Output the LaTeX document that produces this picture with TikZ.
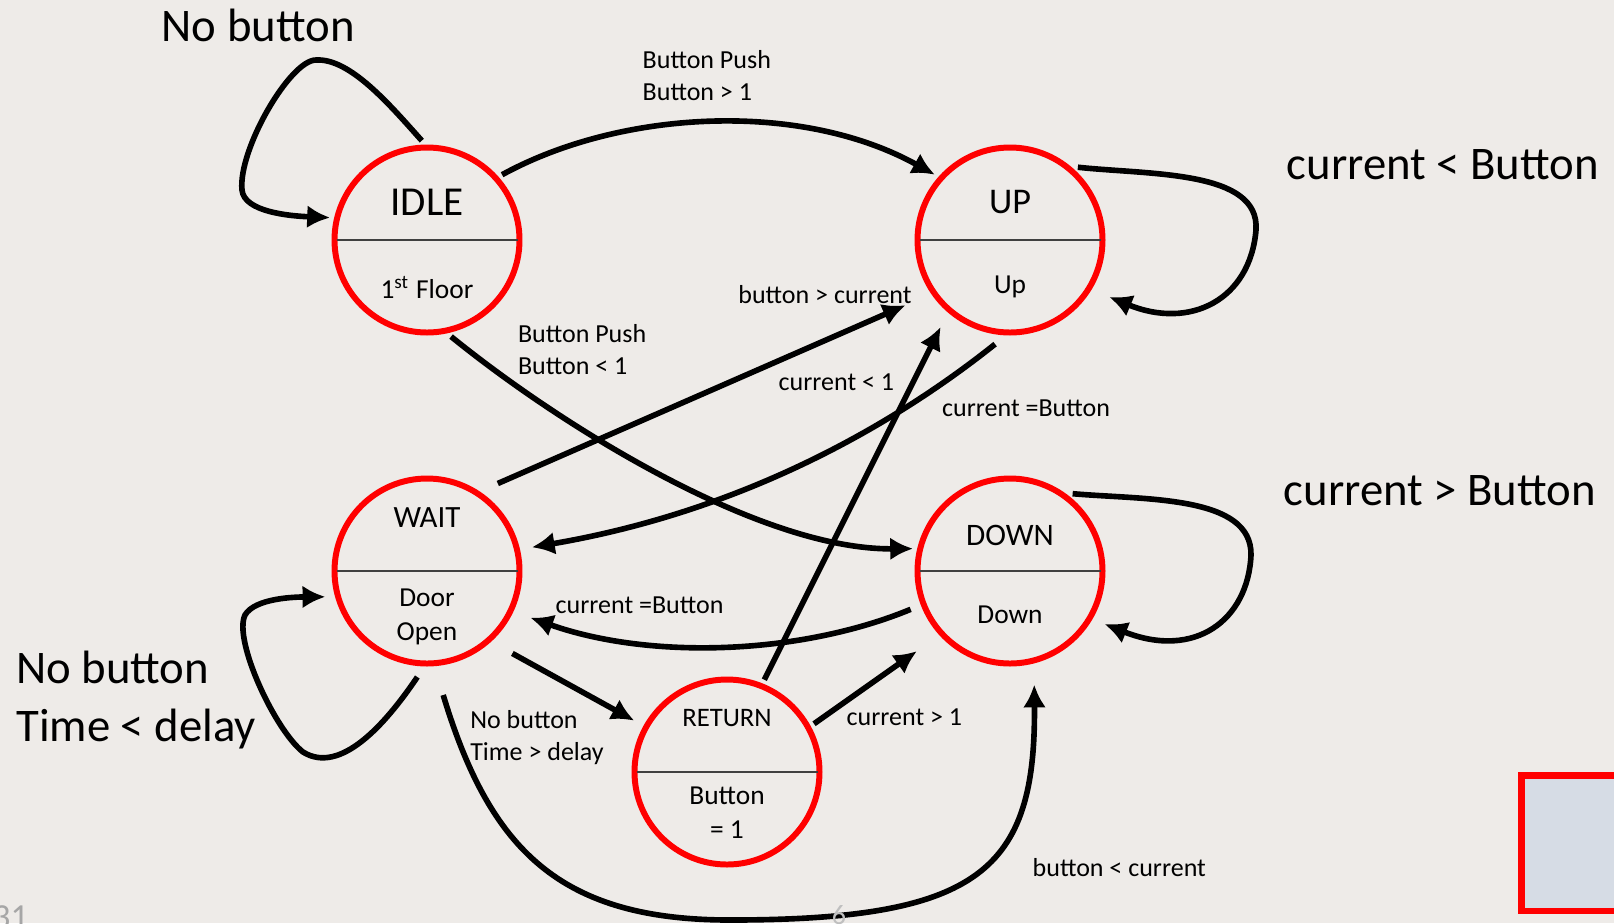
\documentclass[tikz,border=0pt]{standalone}
\usepackage{fontspec}
\setmainfont{Carlito}
\usetikzlibrary{arrows.meta}

\definecolor{slidebg}{RGB}{238,235,232}
\definecolor{boxfill}{RGB}{214,220,229}

\begin{document}
\begin{tikzpicture}[
    state/.style={
        circle,
        draw=red,
        line width=1.7pt,
        minimum size=1.85cm,
        outer sep=0.7mm
    },
    divider/.style={
        draw=black!75,
        line width=0.45pt
    },
    statename/.style={
        anchor=base,
        inner sep=0pt
    },
    inside/.style={
        anchor=base,
        inner sep=0pt,
        align=center,
        font=\fontsize{7.8}{9.5}\selectfont
    },
    cond/.style={
        anchor=base west,
        inner sep=0pt,
        align=left,
        font=\fontsize{7.4}{9.1}\selectfont
    },
    note/.style={
        anchor=base west,
        inner sep=0pt,
        align=left,
        font=\fontsize{13.3}{16.6}\selectfont
    },
    arrow/.style={
        -{Latex[length=6.5pt,width=6.5pt]},
        line width=1.6pt
    }
]

\fill[slidebg] (0,0) rectangle (16.14,-9.23);
\useasboundingbox (0,0) rectangle (16.14,-9.23);

\node[state] (idle) at (4.27,-2.40) {};
\node[state] (up) at (10.10,-2.40) {};
\node[state] (wait) at (4.27,-5.71) {};
\node[state] (down) at (10.10,-5.71) {};
\node[state] (ret) at (7.27,-7.72) {};

\draw[divider] ([xshift=0.9mm]idle.west) -- ([xshift=-0.9mm]idle.east);
\draw[divider] ([xshift=0.9mm]up.west) -- ([xshift=-0.9mm]up.east);
\draw[divider] ([xshift=0.9mm]wait.west) -- ([xshift=-0.9mm]wait.east);
\draw[divider] ([xshift=0.9mm]down.west) -- ([xshift=-0.9mm]down.east);
\draw[divider] ([xshift=0.9mm]ret.west) -- ([xshift=-0.9mm]ret.east);

% names on top, outputs below the line (base = last line)
\node[statename, font=\fontsize{11.7}{14}\selectfont] (idle-t) at (4.27,-2.15) {IDLE};
\node[inside] (idle-s) at (4.27,-2.98) {1\textsuperscript{st} Floor};
\node[statename, font=\fontsize{10.3}{12}\selectfont] (up-t) at (10.10,-2.133) {UP};
\node[inside] (up-s) at (10.10,-2.933) {Up};
\node[statename, font=\fontsize{8.8}{11}\selectfont] (wait-t) at (4.27,-5.273) {WAIT};
\node[inside] (wait-s) at (4.27,-6.40) {Door\\Open};
\node[statename, font=\fontsize{8.9}{11}\selectfont] (down-t) at (10.10,-5.45) {DOWN};
\node[inside] (down-s) at (10.10,-6.233) {Down};
\node[statename, font=\fontsize{7.6}{9}\selectfont] (ret-t) at (7.27,-7.267) {RETURN};
\node[inside] (ret-s) at (7.27,-8.383) {Button\\= 1};

\node[note] (idle-loop) at (1.61,-0.417) {No button};
\node[note] (up-loop) at (12.86,-1.79) {current < Button};
\node[note] (down-loop) at (12.83,-5.05) {current > Button};
\node[note] (wait-loop) at (0.156,-7.417) {No button\\Time < delay};

\node[cond] (c-idle-up) at (6.42,-1.00) {Button Push\\Button > 1};
\node[cond] (c-wait-up) at (7.377,-3.033) {button > current};
\node[cond] (c-idle-down) at (5.173,-3.74) {Button Push\\Button < 1};
\node[cond] (c-ret-up) at (7.78,-3.90) {current < 1};
\node[cond] (c-up-wait) at (9.415,-4.167) {current =Button};
\node[cond] (c-down-wait) at (5.55,-6.133) {current =Button};
\node[cond] (c-wait-ret) at (4.696,-7.60) {No button\\Time > delay};
\node[cond] (c-ret-down) at (8.46,-7.25) {current > 1};
\node[cond] (c-wait-down) at (10.32,-8.76) {button < current};

\draw[arrow] (idle.93) .. controls (3.90,-1.05) and (3.50,-0.58) .. (3.16,-0.60)
    .. controls (2.90,-0.60) and (2.38,-1.50) .. (2.42,-1.90)
    .. controls (2.44,-2.12) and (2.90,-2.16) .. (idle.167);

\draw[arrow] (idle.41) .. controls (6.20,-1.10) and (8.00,-1.00) .. (up.139);
\draw[arrow] (idle.-76) .. controls (5.60,-4.25) and (7.60,-5.50) .. (down.167);

\draw[arrow, shorten <=1.5mm, shorten >=2.4mm] (wait.55) -- (up.214);
\draw[arrow, shorten <=0.8mm, shorten >=0.8mm] (up.265) .. controls (9.00,-4.20) and (7.50,-5.10) .. (wait.13);
\draw[arrow, shorten >=1.2mm] (ret.68) -- (up.230);
\draw[arrow, shorten <=0.7mm, shorten >=1.4mm] (down.201) .. controls (8.00,-6.55) and (6.50,-6.60) .. (wait.335);
\draw[arrow, shorten <=2mm, shorten >=0.65mm] (wait.313) -- (ret.151);
\draw[arrow, shorten >=2.35mm] (ret.29) -- (down.222);

\draw[arrow, shorten <=2.6mm, shorten >=1.7mm] (wait.275)
    .. controls (4.90,-8.50) and (5.60,-9.20) .. (7.30,-9.20)
    .. controls (9.80,-9.20) and (10.36,-8.70) .. (down.284);

\draw[arrow, shorten >=1.5mm] (up.47) .. controls (11.50,-1.75) and (12.60,-1.70) .. (12.56,-2.30)
    .. controls (12.50,-3.00) and (11.90,-3.30) .. (up.-31);
\draw[arrow, shorten >=0.9mm] (down.51) .. controls (11.45,-5.00) and (12.52,-4.95) .. (12.51,-5.55)
    .. controls (12.48,-6.20) and (11.95,-6.60) .. (down.-30);
\draw[arrow, shorten <=0.8mm, shorten >=0.55mm] (wait.267) .. controls (3.85,-7.25) and (3.40,-7.75) .. (3.03,-7.52)
    .. controls (2.75,-7.30) and (2.33,-6.40) .. (2.45,-6.15)
    .. controls (2.55,-5.98) and (2.95,-5.97) .. (wait.195);

\draw[red, fill=boxfill, line width=0.65mm] (15.217,-7.757) rectangle (16.40,-9.11);

\node[text=black!35, font=\fontsize{10}{12}\selectfont, anchor=north west, inner sep=0pt] (pg-left) at (-0.08,-9.05) {31};
\node[text=black!25, font=\fontsize{8}{10}\selectfont, anchor=north, inner sep=0pt] (pg-mid) at (8.39,-9.05) {6};

\end{tikzpicture}
\end{document}
